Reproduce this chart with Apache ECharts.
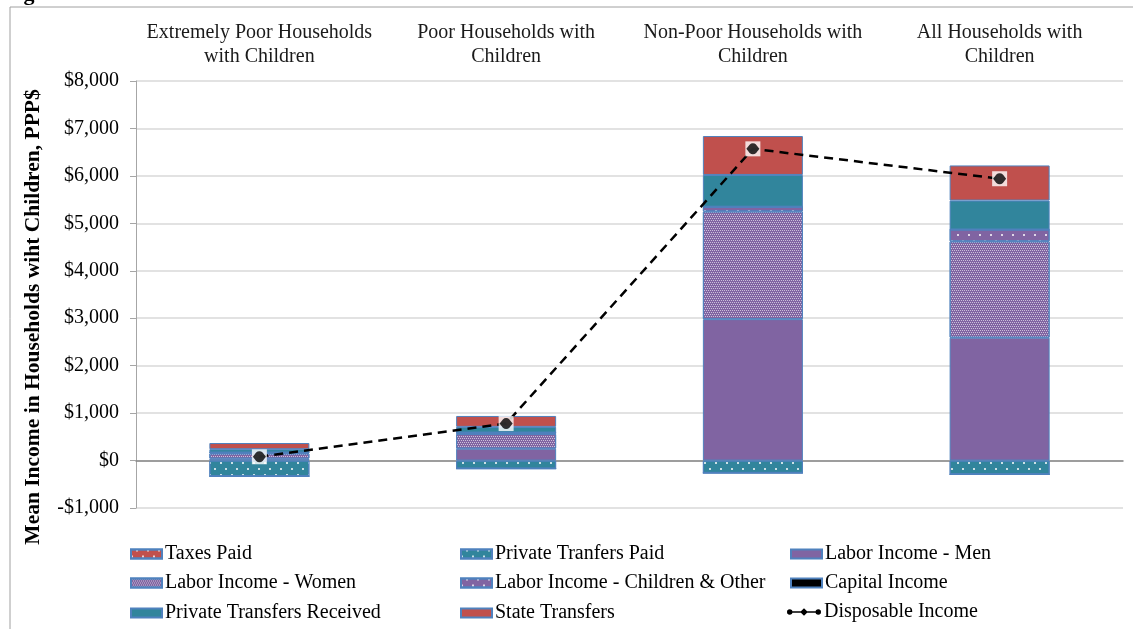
<!DOCTYPE html>
<html>
<head>
<meta charset="utf-8">
<script src="https://cdn.jsdelivr.net/npm/echarts@6/dist/echarts.min.js"></script>
<style>
html,body{margin:0;padding:0;background:#fff;}
#chart{width:1133px;height:629px;}
</style>
</head>
<body>
<div id="chart"></div>
<script>
// ---- Data ----
const categories = [
  'Extremely Poor Households\nwith Children',
  'Poor Households with\nChildren',
  'Non-Poor Households with\nChildren',
  'All Households with\nChildren'
];
const taxesPaid            = [0, 0, 0, 0];
const privateTransfersPaid = [-330, -170, -260, -290];
const laborMen             = [40, 250, 2980, 2590];
const laborWomen           = [110, 310, 2270, 2030];
const laborChildrenOther   = [20, 30, 100, 250];
const capitalIncome        = [0, 0, 0, 0];
const privateTransfersRec  = [70, 120, 670, 610];
const stateTransfers       = [130, 230, 820, 740];
const disposableIncome     = [80, 780, 6570, 5940];
const yTicks = { min: -1000, max: 8000, interval: 1000 };

// legend layout: [name, column, row]
const legendItems = [
  ['Taxes Paid', 0, 0], ['Private Tranfers Paid', 1, 0], ['Labor Income - Men', 2, 0],
  ['Labor Income - Women', 0, 1], ['Labor Income - Children & Other', 1, 1], ['Capital Income', 2, 1],
  ['Private Transfers Received', 0, 2], ['State Transfers', 1, 2], ['Disposable Income', 2, 2]
];

// ---- Styles ----
const RED = '#C0504D', TEAL = '#31859C', PURPLE = '#8064A2';
const BORDER = '#4F81BD';
const FONT = '"Liberation Serif", "DejaVu Serif", serif';

const dotDecal = {
  symbol: 'rect', symbolSize: 1, color: 'rgba(255,255,255,0.75)',
  dashArrayX: [[1.5, 8.5], [0, 5, 1.5, 3.5]], dashArrayY: [1.5, 3.5], rotation: 0
};
const checkDecal = {
  symbol: 'rect', symbolSize: 1, color: 'rgba(255,255,255,0.6)',
  dashArrayX: [[1, 1], [0, 1, 1, 0]], dashArrayY: [1, 0.0001], rotation: 0
};

function barSeries(name, data, color, decal) {
  const s = {
    name, type: 'bar', stack: 'total', data,
    barWidth: 100,
    itemStyle: { color, borderColor: BORDER, borderWidth: 1 },
    z: 2
  };
  if (decal) s.itemStyle.decal = decal;
  return s;
}

const series = [
  barSeries('Labor Income - Men', laborMen, PURPLE),
  barSeries('Labor Income - Women', laborWomen, PURPLE, checkDecal),
  barSeries('Labor Income - Children & Other', laborChildrenOther, PURPLE, dotDecal),
  barSeries('Capital Income', capitalIncome, '#000000'),
  barSeries('Private Transfers Received', privateTransfersRec, TEAL),
  barSeries('State Transfers', stateTransfers, RED),
  barSeries('Private Tranfers Paid', privateTransfersPaid, TEAL, dotDecal),
  barSeries('Taxes Paid', taxesPaid, RED, dotDecal),
  {
    name: 'Disposable Income', type: 'line', data: disposableIncome,
    symbol: 'none', z: 4,
    itemStyle: { color: '#000' },
    lineStyle: { color: '#000', width: 2.5, type: [9, 6] }
  },
  {
    name: 'markerBg', type: 'scatter', data: disposableIncome,
    symbol: 'rect', symbolSize: 15, z: 5,
    itemStyle: { color: '#fff' }
  },
  {
    name: 'marker', type: 'scatter', data: disposableIncome,
    symbol: 'path://M0,5 L2.5,1.7 A3.5,3.5 0 0,1 7.5,1.7 L10,5 L7.5,8.3 A3.5,3.5 0 0,1 2.5,8.3 Z',
    symbolSize: [13, 11], z: 6,
    itemStyle: { color: '#000' }
  }
];

const lineIcon = 'path://M0,5 A3.2,3.2 0 1,1 6.4,5 A3.2,3.2 0 1,1 0,5 Z M6,4 L34,4 L34,6 L6,6 Z M15.5,5 L20,0.5 L24.5,5 L20,9.5 Z M33.6,5 A3.2,3.2 0 1,1 40,5 A3.2,3.2 0 1,1 33.6,5 Z';
const colX = [130, 460, 790];
const rowY = [544, 573, 603];
const legends = legendItems.map(([name, c, r]) => {
  const isLine = name === 'Disposable Income';
  return {
    orient: 'horizontal', left: isLine ? colX[c] - 3 : colX[c], top: isLine ? rowY[r] - 1 : rowY[r],
    itemWidth: isLine ? 34 : 31, itemHeight: isLine ? 11 : 9, icon: 'rect', itemGap: 0,
    textStyle: { fontFamily: FONT, fontSize: 20, color: '#000', padding: [0, 0, 0, -2] },
    selectedMode: false, padding: 0,
    data: [isLine ? { name, icon: lineIcon } : name]
  };
});

const option = {
  animation: false,
  backgroundColor: '#fff',
  grid: { left: 136, right: 10, top: 81, bottom: 121, containLabel: false },
  xAxis: [
    {
      type: 'category', data: categories, position: 'bottom',
      axisLine: { onZero: true, lineStyle: { color: '#868686', width: 1.5 } },
      axisTick: { show: false },
      axisLabel: { show: false }
    },
    {
      type: 'category', data: categories, position: 'top',
      axisLine: { show: false }, axisTick: { show: false },
      axisLabel: { interval: 0, fontFamily: FONT, fontSize: 20, color: '#1a1a1a', lineHeight: 24, margin: 12 }
    }
  ],
  yAxis: {
    type: 'value', min: yTicks.min, max: yTicks.max, interval: yTicks.interval,
    axisLine: { show: true, lineStyle: { color: '#a6a6a6', width: 1 } },
    axisTick: { show: true, length: 6, lineStyle: { color: '#a6a6a6' } },
    splitLine: { lineStyle: { color: '#d9d9d9', width: 1.5 } },
    axisLabel: {
      fontFamily: FONT, fontSize: 20, color: '#000', margin: 17,
      formatter: v => (v < 0 ? '-$' : '$') + Math.abs(v).toLocaleString('en-US')
    }
  },
  legend: legends,
  graphic: [
    {
      type: 'rect', shape: { x: 10, y: 7, width: 1200, height: 700 },
      style: { fill: 'none', stroke: '#a0a0a0', lineWidth: 1 }, z: -1, silent: true
    },
    {
      type: 'text', x: 4, y: -17,
      style: { text: 'Figure', font: 'bold 22px ' + FONT, fill: '#000' }
    },
    {
      type: 'text', x: 33, y: 317, rotation: Math.PI / 2,
      style: {
        text: 'Mean Income in Households wiht Children, PPP$',
        font: 'bold 21.5px ' + FONT, fill: '#000',
        textAlign: 'center', textVerticalAlign: 'middle'
      }
    }
  ],
  series
};

const chart = echarts.init(document.getElementById('chart'), null, { renderer: 'canvas' });
chart.setOption(option);
</script>
</body>
</html>
